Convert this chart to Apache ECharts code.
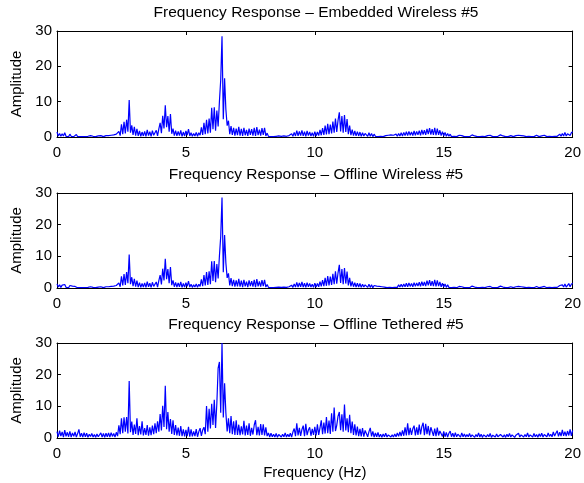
<!DOCTYPE html>
<html>
<head>
<meta charset="utf-8">
<script src="https://cdn.jsdelivr.net/npm/echarts@6/dist/echarts.min.js"></script>
<style>
  html, body { margin: 0; padding: 0; background: #fff; }
  #chart { width: 584px; height: 483px; }
</style>
</head>
<body>
<div id="chart"></div>
<script>
// Spectral bin spacing of the FFT output (Hz)
const binWidth = 0.05;

const panelTitles = [
  'Frequency Response \u2013 Embedded Wireless #5',
  'Frequency Response \u2013 Offline Wireless #5',
  'Frequency Response \u2013 Offline Tethered #5'
];

const xTicks = [0, 5, 10, 15, 20];
const yTicks = [0, 10, 20, 30];

// Amplitude per bin, 0 to 20 Hz, one row per 1 Hz
const embeddedWireless = [
  1.4,0.3,1.0,0.2,0.9,0.3,1.2,0.2,0.7,0.1,0.8,0.2,0.6,0.1,0.5,0.7,0.1,0.5,0.1,0.4,
  0.1,0.4,0.1,0.3,0.2,0.1,0.4,0.1,0.2,0.3,0.1,0.2,0.3,0.1,0.4,0.2,0.1,0.3,0.4,0.1,
  0.4,0.1,0.5,0.2,0.6,0.2,0.8,0.3,1.6,0.4,3.6,0.8,4.3,1.0,4.9,1.5,10.5,1.2,3.3,0.6,
  2.9,0.4,2.3,0.3,1.7,0.2,1.4,0.3,1.6,0.2,2.0,0.4,1.5,0.2,1.8,0.5,1.0,1.9,0.3,2.3,
  4.0,1.1,6.0,2.4,9.0,2.8,5.9,1.5,6.5,0.9,2.4,0.4,1.8,0.3,1.6,0.4,1.9,0.2,1.4,0.3,
  1.7,0.5,2.2,0.3,1.2,0.2,1.0,0.3,1.3,0.2,1.2,0.5,2.7,0.6,4.0,0.8,4.9,1.0,5.2,1.2,
  8.3,2.2,8.4,1.8,7.5,3.0,10.1,16.2,28.5,5.0,16.6,7.8,3.2,4.6,0.8,3.1,0.6,2.6,0.4,2.4,
  0.5,2.9,0.4,2.3,0.3,2.6,0.5,2.0,0.3,2.4,0.6,2.2,0.4,2.6,0.3,2.8,0.5,2.1,0.4,2.5,
  0.6,2.6,0.3,1.1,0.2,0.5,0.1,0.4,0.1,0.3,0.2,0.1,0.3,0.1,0.2,0.1,0.3,0.1,0.2,0.1,
  0.4,0.1,0.9,0.2,1.3,0.3,1.8,0.3,1.6,0.4,1.9,0.3,1.5,0.2,1.7,0.4,1.4,0.3,1.2,0.2,
  1.5,0.3,1.4,0.4,2.0,0.5,2.5,0.6,3.2,0.7,3.7,0.8,3.5,1.0,4.4,1.2,5.2,1.4,4.7,7.0,
  1.6,5.9,1.2,6.2,1.4,5.1,0.8,3.2,0.5,2.1,0.4,1.7,0.3,1.5,0.3,1.4,0.2,1.2,0.3,1.0,
  1.5,0.2,1.2,0.2,1.0,0.1,0.8,0.2,0.6,0.1,0.5,0.2,0.4,0.1,0.3,0.4,0.1,0.5,0.2,0.6,
  0.1,0.5,0.2,0.8,0.2,1.0,0.3,1.2,0.3,1.3,0.4,1.5,0.4,1.6,0.5,1.4,0.4,1.7,0.5,1.6,
  0.6,1.8,0.5,2.0,0.7,1.9,0.6,2.3,0.8,2.5,0.7,2.2,0.6,2.6,0.5,2.4,0.6,1.9,0.4,1.5,
  0.3,1.3,0.2,1.0,0.2,0.8,0.1,0.6,0.2,0.5,0.1,0.4,0.5,0.1,0.4,0.6,0.1,0.4,0.1,0.5,
  0.1,0.4,0.6,0.1,0.3,0.5,0.1,0.3,0.1,0.4,0.2,0.6,0.1,0.3,0.4,0.1,0.5,0.2,0.1,0.4,
  0.1,0.5,0.2,0.4,0.6,0.1,0.3,0.5,0.1,0.4,0.1,0.3,0.4,0.6,0.1,0.2,0.4,0.1,0.5,0.2,
  0.4,0.1,0.3,0.5,0.1,0.4,0.2,0.6,0.1,0.4,0.1,0.3,0.5,0.2,0.1,0.4,0.3,0.1,0.5,0.2,
  0.1,0.4,0.2,0.5,0.1,0.4,0.2,0.7,0.2,0.5,0.8,0.2,1.0,0.3,1.3,0.3,0.9,1.4,0.4,1.2,
  1.5
];

const offlineWireless = [
  1.3,0.3,1.0,0.2,0.9,0.3,1.1,0.2,0.7,0.1,0.8,0.2,0.6,0.1,0.5,0.7,0.1,0.5,0.1,0.4,
  0.1,0.4,0.1,0.3,0.2,0.1,0.4,0.1,0.2,0.3,0.1,0.2,0.3,0.1,0.4,0.2,0.1,0.3,0.4,0.1,
  0.4,0.1,0.5,0.2,0.6,0.2,0.8,0.3,1.6,0.4,3.7,0.8,4.4,1.0,5.0,1.5,10.6,1.2,3.4,0.6,
  2.9,0.4,2.3,0.3,1.7,0.2,1.4,0.3,1.6,0.2,2.0,0.4,1.5,0.2,1.8,0.5,1.0,1.9,0.3,2.3,
  4.1,1.1,6.1,2.4,9.2,2.8,6.0,1.5,6.6,0.9,2.4,0.4,1.8,0.3,1.6,0.4,1.9,0.2,1.4,0.3,
  1.7,0.5,2.2,0.3,1.2,0.2,1.0,0.3,1.3,0.2,1.2,0.5,2.7,0.6,4.1,0.8,5.0,1.0,5.3,1.2,
  8.4,2.2,8.5,1.8,7.6,3.0,10.2,16.3,28.6,5.0,16.7,7.9,3.2,4.6,0.8,3.1,0.6,2.6,0.4,2.4,
  0.5,2.9,0.4,2.3,0.3,2.6,0.5,2.0,0.3,2.4,0.6,2.2,0.4,2.6,0.3,2.8,0.5,2.1,0.4,2.5,
  0.6,2.6,0.3,1.1,0.2,0.5,0.1,0.4,0.1,0.3,0.2,0.1,0.3,0.1,0.2,0.1,0.3,0.1,0.2,0.1,
  0.4,0.1,0.9,0.2,1.3,0.3,1.8,0.3,1.6,0.4,1.9,0.3,1.5,0.2,1.7,0.4,1.4,0.3,1.2,0.2,
  1.5,0.3,1.4,0.4,2.0,0.5,2.5,0.6,3.2,0.7,3.8,0.8,3.6,1.0,4.5,1.2,5.3,1.4,4.8,7.3,
  1.6,6.0,1.2,6.3,1.4,5.2,0.8,3.2,0.5,2.1,0.4,1.7,0.3,1.5,0.3,1.4,0.2,1.2,0.3,1.0,
  1.5,0.2,1.2,0.2,1.0,0.1,0.8,0.2,0.6,0.1,0.5,0.2,0.4,0.1,0.3,0.4,0.1,0.5,0.2,0.6,
  0.1,0.5,0.2,0.8,0.2,1.0,0.3,1.2,0.3,1.3,0.4,1.5,0.4,1.6,0.5,1.4,0.4,1.7,0.5,1.6,
  0.6,1.8,0.5,2.0,0.7,1.9,0.6,2.3,0.8,2.5,0.7,2.2,0.6,2.6,0.5,2.4,0.6,1.9,0.4,1.5,
  0.3,1.3,0.2,1.0,0.2,0.8,0.1,0.6,0.2,0.5,0.1,0.4,0.5,0.1,0.4,0.6,0.1,0.4,0.1,0.5,
  0.1,0.4,0.6,0.1,0.3,0.5,0.1,0.3,0.1,0.4,0.2,0.6,0.1,0.3,0.4,0.1,0.5,0.2,0.1,0.4,
  0.1,0.5,0.2,0.4,0.6,0.1,0.3,0.5,0.1,0.4,0.1,0.3,0.4,0.6,0.1,0.2,0.4,0.1,0.5,0.2,
  0.4,0.1,0.3,0.5,0.1,0.4,0.2,0.6,0.1,0.4,0.1,0.3,0.5,0.2,0.1,0.4,0.3,0.1,0.5,0.2,
  0.1,0.4,0.2,0.5,0.1,0.4,0.2,0.7,0.2,0.5,0.8,0.2,1.0,0.3,1.3,0.3,0.9,1.4,0.4,1.2,
  1.5
];

const offlineTethered = [
  2.0,0.4,2.3,0.6,1.9,0.3,2.5,0.5,1.8,0.4,2.1,0.3,1.6,0.5,1.9,0.3,1.4,2.7,0.4,1.5,
  0.3,1.7,0.4,1.5,0.2,1.2,0.5,1.4,0.3,1.1,0.2,1.3,0.4,1.0,1.6,0.3,1.4,0.2,1.5,0.4,
  1.6,0.3,1.7,0.5,1.4,0.3,1.8,0.6,4.0,1.2,6.2,1.5,6.5,2.0,6.6,1.4,18.0,1.8,5.2,1.0,
  4.2,1.3,6.2,0.9,3.8,1.1,5.3,0.8,3.1,1.0,4.1,0.7,3.4,0.9,3.9,1.2,4.6,1.5,5.3,2.0,
  7.6,2.4,10.2,3.5,16.5,2.8,8.2,2.0,6.0,1.3,5.6,1.0,4.1,0.8,3.3,0.7,3.8,0.6,2.7,0.5,
  2.6,0.6,3.5,0.4,2.7,0.5,2.1,0.6,2.8,0.4,2.0,3.1,0.7,2.5,3.4,1.2,10.1,2.0,9.2,3.0,
  10.8,4.1,12.1,3.2,11.0,22.1,24.0,8.0,30.0,6.5,17.3,7.9,2.1,6.2,1.5,6.9,1.2,5.3,1.0,5.6,
  1.0,4.2,0.9,3.7,1.1,5.4,0.8,3.9,1.0,4.6,0.7,3.2,1.1,4.1,5.6,0.9,3.5,0.8,4.4,1.0,
  4.3,0.8,3.4,0.6,1.6,0.3,1.5,0.4,1.2,0.3,1.4,0.2,1.1,1.3,0.3,1.2,0.4,1.6,0.3,1.2,
  0.4,1.5,0.3,1.9,3.0,0.6,4.6,0.8,3.2,0.7,2.7,3.9,0.6,4.5,0.9,2.5,3.4,0.7,2.9,1.0,
  3.5,0.8,4.3,1.0,3.2,5.6,1.2,4.9,1.4,6.6,1.5,5.5,1.3,7.8,2.0,9.6,2.2,4.0,6.9,8.2,
  2.5,7.5,2.0,10.6,2.4,6.2,1.8,7.3,1.5,5.2,1.0,4.3,0.8,3.6,0.6,2.9,0.5,3.1,0.4,2.4,
  2.7,0.4,2.0,3.2,0.5,2.1,0.3,1.6,0.4,1.8,0.3,1.2,0.2,1.3,0.4,1.5,0.3,1.0,1.5,0.3,
  1.0,0.3,1.3,0.4,1.6,0.5,1.9,0.6,2.4,0.7,3.4,0.8,4.6,0.9,3.2,1.0,2.9,3.9,0.8,3.4,
  1.0,4.2,1.1,3.6,4.8,0.9,4.5,1.2,3.8,0.8,3.4,4.0,0.7,3.0,0.6,3.3,0.8,2.2,2.8,0.5,
  2.1,0.4,1.8,0.3,1.5,2.2,0.4,1.5,0.3,1.7,0.4,1.2,1.4,0.3,1.6,0.4,1.3,0.3,1.1,0.4,
  1.4,0.3,1.0,1.5,0.2,1.1,0.4,1.6,0.3,1.2,0.2,1.0,1.3,0.3,1.1,0.4,1.4,0.2,0.9,1.2,
  0.3,1.3,0.4,0.9,1.1,1.5,0.3,1.0,0.2,1.2,0.4,1.4,0.3,1.0,1.3,0.2,0.9,1.1,1.5,0.3,
  1.0,1.3,0.3,1.1,0.4,1.6,0.3,1.0,1.2,0.3,1.4,0.4,1.1,0.2,1.3,0.5,1.5,0.3,1.1,1.4,
  0.4,1.6,0.5,1.2,0.4,1.9,0.6,1.5,2.3,0.5,1.8,0.6,2.6,0.7,2.0,0.6,2.2,0.8,2.7,0.7,
  2.4
];

const spectra = [embeddedWireless, offlineWireless, offlineTethered];

const FONT = '"Liberation Sans", Arial, Helvetica, sans-serif';
const FONT_SIZE = 15;
const INK = '#000';

// Plot boxes of the three stacked panels
const grids = [
  { left: 57, top: 31, width: 518, height: 106 },
  { left: 57, top: 193, width: 518, height: 95 },
  { left: 57, top: 343, width: 518, height: 95 }
];
const titleTops = [5, 167, 317];

function toPairs(values) {
  return values.map((v, i) => [+(i * binWidth).toFixed(2), v]);
}

const xMin = xTicks[0], xMax = xTicks[xTicks.length - 1];
const xStep = xTicks[1] - xTicks[0];
const yMin = yTicks[0], yMax = yTicks[yTicks.length - 1];
const yStep = yTicks[1] - yTicks[0];

const xAxes = [], yAxes = [], series = [], titles = [];

grids.forEach((g, k) => {
  const isLast = k === grids.length - 1;
  titles.push({
    text: panelTitles[k],
    left: g.left + g.width / 2,
    top: titleTops[k],
    padding: 0,
    textAlign: 'center',
    textStyle: { fontFamily: FONT, fontSize: 15.5, fontWeight: 'normal', color: INK }
  });
  // bottom axis with labels
  xAxes.push({
    type: 'value', gridIndex: k, position: 'bottom',
    min: xMin, max: xMax, interval: xStep,
    name: isLast ? 'Frequency (Hz)' : '',
    nameLocation: 'middle', nameGap: 27,
    nameTextStyle: { fontFamily: FONT, fontSize: FONT_SIZE, color: INK },
    axisLine: { onZero: false, lineStyle: { color: INK, width: 1 } },
    axisTick: { inside: true, length: 4, lineStyle: { color: INK } },
    axisLabel: { fontFamily: FONT, fontSize: FONT_SIZE, color: INK, margin: 8 },
    splitLine: { show: false }
  });
  // top frame edge with mirrored ticks
  xAxes.push({
    type: 'value', gridIndex: k, position: 'top',
    min: xMin, max: xMax, interval: xStep,
    axisLine: { onZero: false, lineStyle: { color: INK, width: 1 } },
    axisTick: { inside: true, length: 4, lineStyle: { color: INK } },
    axisLabel: { show: false },
    splitLine: { show: false }
  });
  yAxes.push({
    type: 'value', gridIndex: k, position: 'left',
    min: yMin, max: yMax, interval: yStep,
    name: 'Amplitude', nameLocation: 'middle', nameGap: 30,
    nameTextStyle: { fontFamily: FONT, fontSize: FONT_SIZE, color: INK },
    axisLine: { show: true, onZero: false, lineStyle: { color: INK, width: 1 } },
    axisTick: { show: true, inside: true, length: 4, lineStyle: { color: INK } },
    axisLabel: { fontFamily: FONT, fontSize: FONT_SIZE, color: INK, margin: 5 },
    splitLine: { show: false }
  });
  yAxes.push({
    type: 'value', gridIndex: k, position: 'right',
    min: yMin, max: yMax, interval: yStep,
    axisLine: { show: true, onZero: false, lineStyle: { color: INK, width: 1 } },
    axisTick: { show: true, inside: true, length: 4, lineStyle: { color: INK } },
    axisLabel: { show: false },
    splitLine: { show: false }
  });
  series.push({
    type: 'line',
    xAxisIndex: 2 * k, yAxisIndex: 2 * k,
    data: toPairs(spectra[k]),
    showSymbol: false, symbol: 'none',
    lineStyle: { color: '#0000ff', width: 1.2 },
    itemStyle: { color: '#0000ff' },
    clip: true
  });
});

const chart = echarts.init(document.getElementById('chart'), null, { renderer: 'canvas' });
chart.setOption({
  animation: false,
  backgroundColor: '#fff',
  title: titles,
  grid: grids,
  xAxis: xAxes,
  yAxis: yAxes,
  series: series
});
</script>
</body>
</html>
